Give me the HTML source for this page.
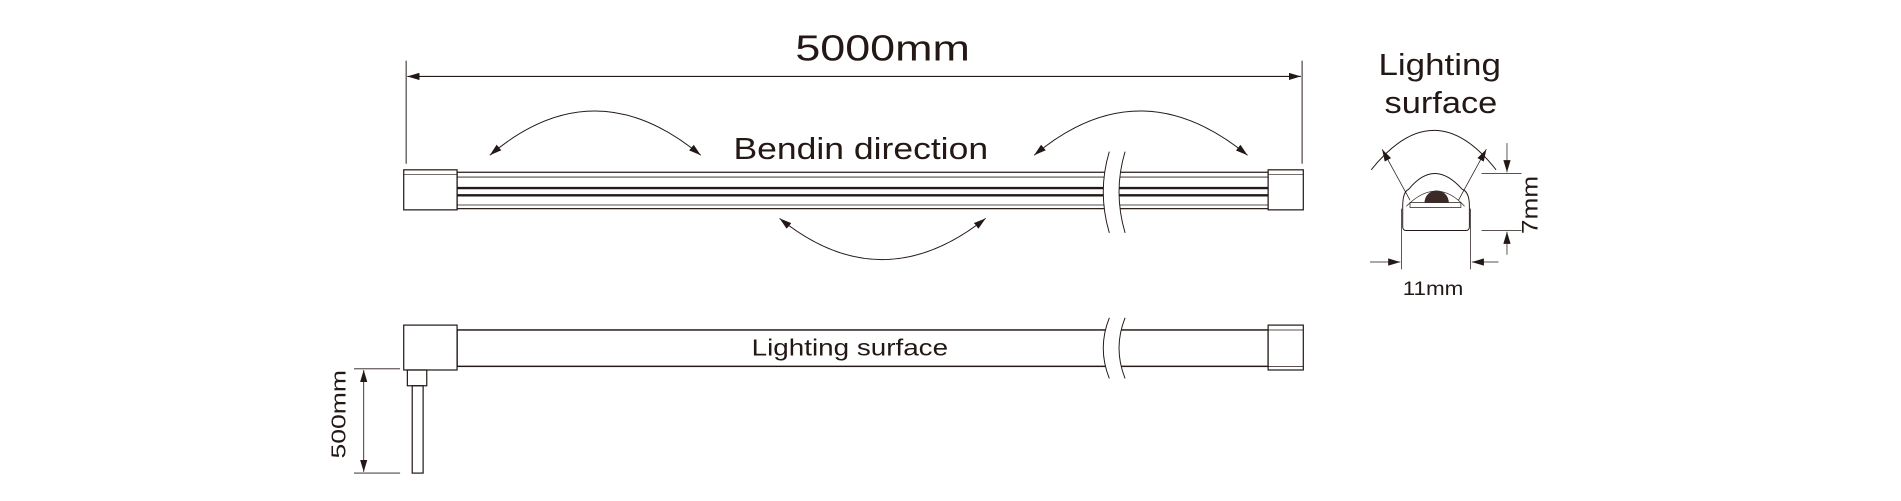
<!DOCTYPE html>
<html><head><meta charset="utf-8"><style>html,body{margin:0;padding:0;background:#fff}svg{display:block}</style></head>
<body>
<svg width="1901" height="501" viewBox="0 0 1568 413" preserveAspectRatio="none" xmlns="http://www.w3.org/2000/svg" font-family="Liberation Sans, sans-serif" fill="none" stroke="#231815">
<defs>
<marker id="a" viewBox="0 0 10 6" refX="10" refY="3" markerWidth="10" markerHeight="6" markerUnits="userSpaceOnUse" orient="auto"><path d="M0,0 L10,3 L0,6z" fill="#231815" stroke="none"/></marker>
<marker id="s" viewBox="0 0 10 6" refX="0" refY="3" markerWidth="10" markerHeight="6" markerUnits="userSpaceOnUse" orient="auto"><path d="M10,0 L0,3 L10,6z" fill="#231815" stroke="none"/></marker>
</defs>
<!-- 5000mm -->
<text x="656" y="50" font-size="30" fill="#231815" stroke="none" textLength="144" lengthAdjust="spacingAndGlyphs">5000mm</text>
<line x1="335" y1="50" x2="335" y2="135" stroke-width="0.8"/>
<line x1="1074" y1="50" x2="1074" y2="135" stroke-width="0.8"/>
<line x1="336" y1="63" x2="1073" y2="63" stroke-width="1" marker-start="url(#s)" marker-end="url(#a)"/>
<!-- arcs -->
<path d="M404,128 Q490,55 578,128" stroke-width="0.8" marker-start="url(#s)" marker-end="url(#a)"/>
<path d="M853,128 Q940,55 1029,128" stroke-width="0.8" marker-start="url(#s)" marker-end="url(#a)"/>
<path d="M643,180 Q727,248 813,180" stroke-width="0.8" marker-start="url(#s)" marker-end="url(#a)"/>
<text x="605" y="131" font-size="25" fill="#231815" stroke="none" textLength="210" lengthAdjust="spacingAndGlyphs">Bendin direction</text>
<!-- bar 1 -->
<rect x="377" y="142" width="669" height="30" stroke-width="1"/>
<line x1="377" y1="146" x2="1046" y2="146" stroke-width="0.7"/>
<line x1="377" y1="155" x2="1046" y2="155" stroke-width="2"/>
<line x1="377" y1="161" x2="1046" y2="161" stroke-width="2"/>
<line x1="377" y1="169" x2="1046" y2="169" stroke-width="0.7"/>
<rect x="333" y="140" width="44" height="33" fill="#fff" stroke-width="1"/>
<line x1="333" y1="144" x2="377" y2="144" stroke-width="0.6"/>
<rect x="1046" y="140" width="29" height="33" fill="#fff" stroke-width="1"/>
<line x1="1046" y1="144" x2="1075" y2="144" stroke-width="0.6"/>
<path d="M915,125 Q905,158 915,192 L928,192 Q918,158 928,125 Z" fill="#fff" stroke="none"/>
<path d="M915,125 Q905,158 915,192 M928,125 Q918,158 928,192" stroke-width="0.8"/>
<!-- bar 2 -->
<rect x="377" y="272" width="669" height="30" stroke-width="1.2"/>
<rect x="333" y="268" width="44" height="37" fill="#fff" stroke-width="1"/>
<rect x="1046" y="268" width="29" height="37" fill="#fff" stroke-width="1"/>
<line x1="1046" y1="272" x2="1075" y2="272" stroke-width="0.6"/>
<line x1="1046" y1="302" x2="1075" y2="302" stroke-width="0.6"/>
<path d="M915,262 Q905,287 915,312 L928,312 Q918,287 928,262 Z" fill="#fff" stroke="none"/>
<path d="M915,262 Q905,287 915,312 M928,262 Q918,287 928,312" stroke-width="0.8"/>
<text x="620" y="293" font-size="19" fill="#231815" stroke="none" textLength="162" lengthAdjust="spacingAndGlyphs">Lighting surface</text>
<!-- cable -->
<rect x="336" y="305" width="16" height="13" stroke-width="1"/>
<rect x="340" y="318" width="9" height="72" stroke-width="1"/>
<!-- 500mm -->
<line x1="292" y1="304" x2="330" y2="304" stroke-width="0.7"/>
<line x1="292" y1="390" x2="330" y2="390" stroke-width="0.7"/>
<line x1="300" y1="305" x2="300" y2="389" stroke-width="0.7" marker-start="url(#s)" marker-end="url(#a)"/>
<text transform="translate(285,378) rotate(-90)" font-size="17" fill="#231815" stroke="none" textLength="73" lengthAdjust="spacingAndGlyphs">500mm</text>
<!-- cross section -->
<text x="1137" y="62" font-size="25" fill="#231815" stroke="none" textLength="101" lengthAdjust="spacingAndGlyphs">Lighting</text>
<text x="1142" y="93" font-size="25" fill="#231815" stroke="none" textLength="93" lengthAdjust="spacingAndGlyphs">surface</text>
<path d="M1131,140 Q1183,75 1234,140" stroke-width="0.8"/>
<line x1="1140" y1="123" x2="1163" y2="165" stroke-width="0.6" marker-start="url(#s)"/>
<line x1="1226" y1="123" x2="1203" y2="165" stroke-width="0.6" marker-start="url(#s)"/>
<path d="M1157,170 Q1157,158 1162,156 Q1183,130 1206,156 Q1212,158 1212,170 L1212,187 Q1212,190 1209,190 L1160,190 Q1157,190 1157,187 Z" stroke-width="0.8"/>
<path d="M1160,170 Q1185,145 1208,170" stroke-width="0.6"/>
<rect x="1163" y="167" width="42" height="4" stroke-width="0.6"/>
<path d="M1175,167 A10,10 0 0 1 1195,167 Z" fill="#3a2a28" stroke="none"/>
<line x1="1222" y1="143" x2="1255" y2="143" stroke-width="0.6"/>
<line x1="1222" y1="190" x2="1255" y2="190" stroke-width="0.6"/>
<line x1="1243" y1="118" x2="1243" y2="142" stroke-width="0.6" marker-end="url(#a)"/>
<line x1="1243" y1="210" x2="1243" y2="191" stroke-width="0.6" marker-end="url(#a)"/>
<text transform="translate(1268,193) rotate(-90)" font-size="18" fill="#231815" stroke="none" textLength="48" lengthAdjust="spacingAndGlyphs">7mm</text>
<line x1="1156" y1="172" x2="1156" y2="222" stroke-width="0.6"/>
<line x1="1213" y1="172" x2="1213" y2="222" stroke-width="0.6"/>
<line x1="1130" y1="216" x2="1155" y2="216" stroke-width="0.6" marker-end="url(#a)"/>
<line x1="1236" y1="216" x2="1214" y2="216" stroke-width="0.6" marker-end="url(#a)"/>
<text x="1157" y="243" font-size="16" fill="#231815" stroke="none" textLength="50" lengthAdjust="spacingAndGlyphs">11mm</text>
</svg>
</body></html>
